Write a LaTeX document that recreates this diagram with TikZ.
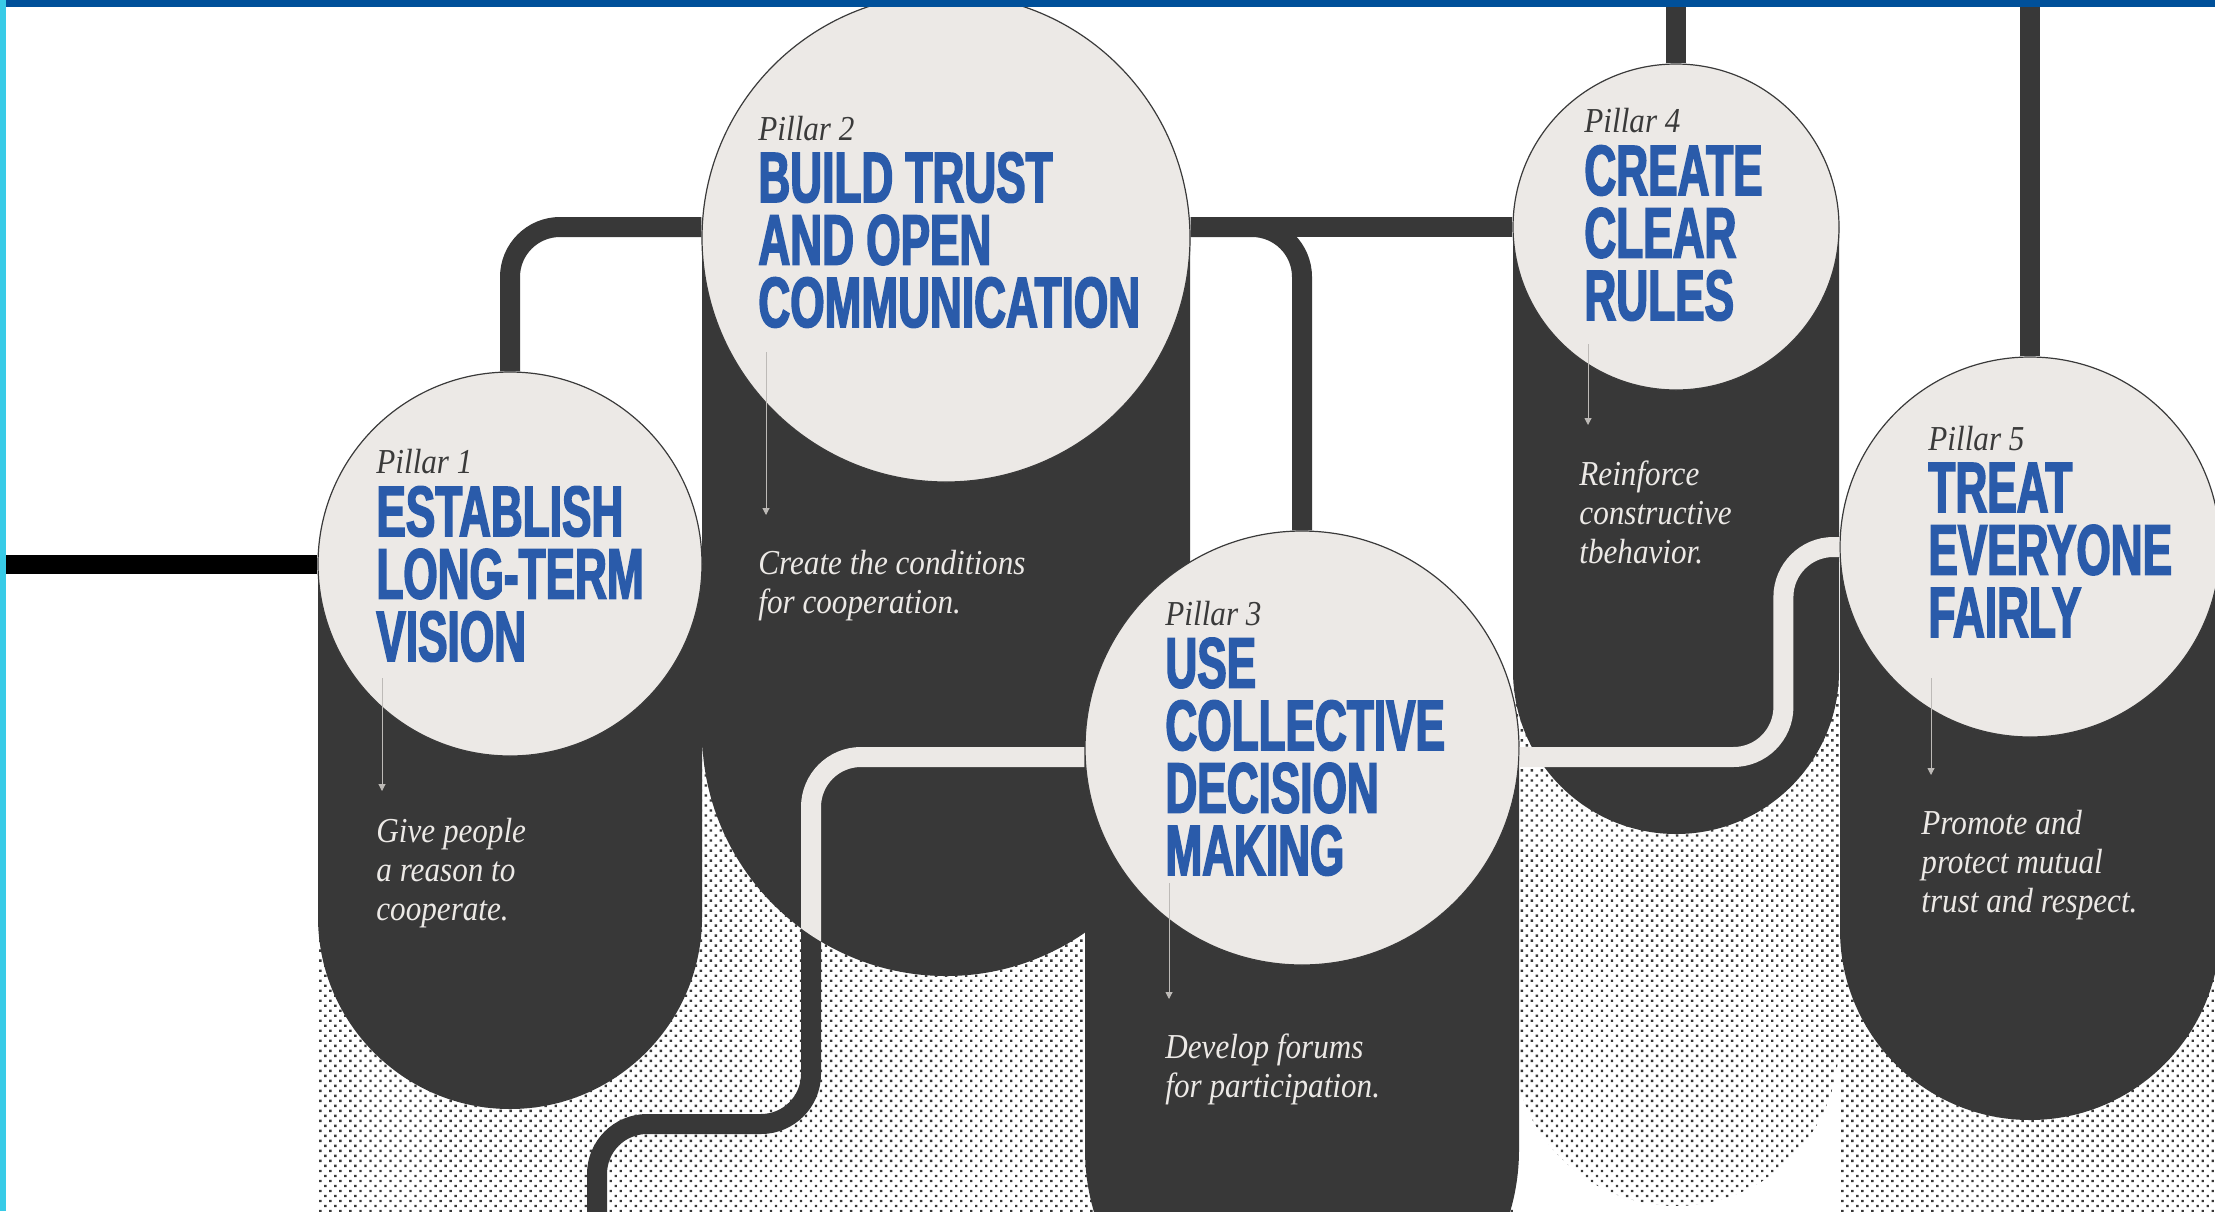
\documentclass[tikz,border=0pt]{standalone}
\usepackage{fontspec}
\usetikzlibrary{arrows.meta, patterns.meta}

\setmainfont{Liberation Serif}
\newfontfamily\headfont{Liberation Sans}[FakeStretch=0.62, FakeBold=2.2]
\newfontfamily\notefont{Liberation Serif}[FakeStretch=0.89]

\definecolor{pillgray}{HTML}{383838}
\definecolor{paper}{HTML}{ECE9E6}
\definecolor{titleblue}{HTML}{2A5BAA}
\definecolor{labelgray}{HTML}{3A3A3A}
\definecolor{tickgray}{HTML}{BDBAB7}
\definecolor{barblue}{HTML}{00509A}
\definecolor{barcyan}{HTML}{38CBE7}

\begin{document}
\begin{tikzpicture}[x=0.5pt, y=-0.5pt,
		body/.style={fill=pillgray},
		shade dots/.style={pattern={Dots[distance=3.54pt, radius=0.85pt, angle=45]}, pattern color=pillgray},
		disc/.style={circle, fill=paper, draw=labelgray, line width=0.6pt, inner sep=0pt, minimum size=#1},
		link/.style={draw=pillgray, line width=10pt, rounded corners=25pt},
		light link/.style={link, draw=paper},
		entry/.style={draw=black, line width=9.5pt},
		tick/.style={draw=tickgray, line width=0.5pt, -{Triangle[width=3.5pt, length=3.5pt]}},
		lab/.style={anchor=base west, inner sep=0pt, text=labelgray, font=\notefont\itshape\fontsize{17.5pt}{19.5pt}\selectfont},
		head/.style={anchor=base west, inner sep=0pt, align=left, text=titleblue, font=\headfont\bfseries\fontsize{35.6pt}{31.25pt}\selectfont},
		note/.style={anchor=base west, inner sep=0pt, align=left, text=paper, font=\notefont\itshape\fontsize{17.5pt}{19.5pt}\selectfont}]
	\useasboundingbox (0,0) rectangle (2215,1211);

	% halftone ground behind the pillars; the shadow of pillar 4 ends in a round bottom
	\path[shade dots] (318,600) -- (1190,600) -- (1190,748) -- (1513,748) -- (1513,598) -- (2215,598) -- (2215,1215) -- (318,1215) -- cycle;
	\fill[white] (1513,1043) -- (1513,1215) -- (1839,1215) -- (1839,1043) arc[start angle=0, end angle=180, radius=163] -- cycle;

	% pillar bodies
	\path[body] \foreach \cx/\cy/\r/\by in {510/564/192/917, 946/238/244/732, 1302/748/217/1150, 1676/227/163/671, 2030/547/190/930} {
		(\cx-\r,\cy) -- (\cx-\r,\by) arc[start angle=180, end angle=0, radius=\r] -- (\cx+\r,\cy) -- cycle
	};

	% pillar heads
	\node[disc=192pt] (c1) at (510,564) {};
	\node[disc=244pt] (c2) at (946,238) {};
	\node[disc=217pt] (c3) at (1302,748) {};
	\node[disc=163pt] (c4) at (1676,227) {};
	\node[disc=190pt] (c5) at (2030,547) {};

	\coordinate (entrypt) at (6,564);
	\coordinate (topedge) at (1000,0);
	\coordinate (drain) at (597,1240);
	\coordinate (b2) at (946,732);
	\coordinate (c3w) at ([yshift=-4.5pt]c3.west);
	\coordinate (c3e) at ([yshift=-4.5pt]c3.east);

	% connectors
	\path[entry] (entrypt) -- (c1.west);
	\path[link] (c1.north) |- (c2.west |- c4.west);
	\path[link] (c2.east |- c4.west) -- (c4.west);
	\path[link] (c2.east |- c4.west) -| (c3.north);
	\path[link] (c4.north) -- (c4.north |- topedge);
	\path[link] (c5.north) -- (c5.north |- topedge);
	\path[link] (c3w) -| (811,1124) -| (drain);
	\begin{scope}
		\clip (b2) circle[radius=244];
		\path[light link] (c3w) -| (811,1124) -| (drain);
	\end{scope}
	\path[light link] (c3e) -| ([xshift=-28pt]c5.west) -- (c5.west);

	% texts (multi-line nodes sit on their last baseline)
	\node[lab] (p1) at (376,473) {Pillar 1};
	\node[head] (h1) at (376,661) {ESTABLISH\\LONG-TERM\\VISION};
	\node[note] (n1) at (376,920) {Give people\\a reason to\\cooperate.};

	\node[lab] (p2) at (758,140) {Pillar 2};
	\node[head] (h2) at (758,327) {BUILD TRUST\\AND OPEN\\COMMUNICATION};
	\node[note] (n2) at (758,613) {Create the conditions\\for cooperation.};

	\node[lab] (p3) at (1165,625) {Pillar 3};
	\node[head] (h3) at (1165,875) {USE\\COLLECTIVE\\DECISION\\MAKING};
	\node[note] (n3) at (1165,1097) {Develop forums\\for participation.};

	\node[lab] (p4) at (1584,132) {Pillar 4};
	\node[head] (h4) at (1584,320) {CREATE\\CLEAR\\RULES};
	\node[note] (n4) at (1579,563) {Reinforce\\constructive\\tbehavior.};

	\node[lab] (p5) at (1928,450) {Pillar 5};
	\node[head] (h5) at (1928,637) {TREAT\\EVERYONE\\FAIRLY};
	\node[note] (n5) at (1921,912) {Promote and\\protect mutual\\trust and respect.};

	% little arrows down to the notes
	\coordinate (a1) at (382,678);
	\coordinate (a2) at (766,352);
	\coordinate (a3) at (1169,883);
	\coordinate (a4) at (1588,344);
	\coordinate (a5) at (1931,678);
	\path[tick] (a1) -- ++(0,113);
	\path[tick] (a2) -- ++(0,163);
	\path[tick] (a3) -- ++(0,116);
	\path[tick] (a4) -- ++(0,81);
	\path[tick] (a5) -- ++(0,97);

	% frame
	\fill[barblue] (0,0) rectangle (2215,7);
	\fill[barcyan] (0,0) rectangle (6,1211);
\end{tikzpicture}
\end{document}
